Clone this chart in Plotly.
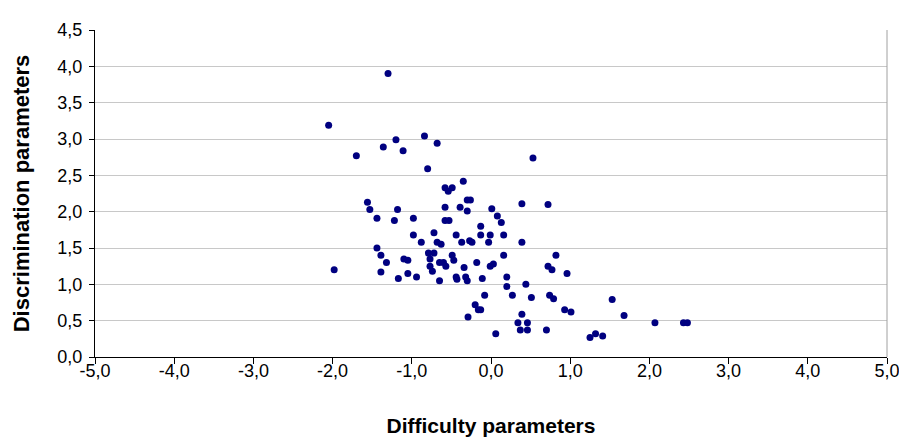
import plotly.graph_objects as go

difficulty = [-2.05, -1.98, -1.70, -1.56, -1.53, -1.44, -1.44, -1.39, -1.39, -1.36,
              -1.30, -1.32, -1.20, -1.18, -1.22, -1.17, -1.11, -1.10, -1.05, -1.05,
              -0.98, -0.98, -0.94, -0.88, -0.84, -0.80, -0.79, -0.72, -0.77, -0.77,
              -0.74, -0.72, -0.68, -0.68, -0.63, -0.65, -0.60, -0.65, -0.58, -0.49,
              -0.54, -0.58, -0.58, -0.53, -0.49, -0.47, -0.57, -0.44, -0.44, -0.43,
              -0.39, -0.37, -0.35, -0.34, -0.32, -0.30, -0.30, -0.26, -0.30, -0.27,
              -0.24, -0.29, -0.20, -0.18, -0.16, -0.13, -0.13, -0.13, -0.11, -0.08,
              -0.03, -0.01, -0.01, 0.03, 0.01, 0.06, 0.08, 0.13, 0.16, 0.16,
              0.20, 0.20, 0.27, 0.34, 0.37, 0.39, 0.39, 0.39, 0.44, 0.46,
              0.46, 0.51, 0.53, 0.70, 0.72, 0.72, 0.77, 0.74, 0.79, 0.82,
              0.96, 0.93, 1.01, 1.25, 1.32, 1.41, 1.53, 1.68, 2.07, 2.43, 2.48]

discrimination = [3.19, 1.20, 2.77, 2.13, 2.03, 1.91, 1.50, 1.40, 1.17, 2.89,
                  3.90, 1.30, 2.99, 2.03, 1.88, 1.08, 2.84, 1.35, 1.33, 1.15,
                  1.91, 1.68, 1.10, 1.58, 3.04, 2.59, 1.43, 1.43, 1.35, 1.25,
                  1.18, 1.71, 2.94, 1.58, 1.55, 1.30, 1.30, 1.05, 2.33, 2.33,
                  2.28, 2.06, 1.88, 1.88, 1.40, 1.33, 1.25, 1.68, 1.10, 1.07,
                  2.06, 1.58, 2.42, 1.23, 1.10, 1.05, 2.16, 2.16, 2.01, 1.60,
                  1.58, 0.55, 0.72, 1.30, 0.65, 0.65, 1.80, 1.68, 1.08, 0.85,
                  1.58, 1.68, 1.25, 1.28, 2.04, 0.32, 1.94, 1.85, 1.68, 1.40,
                  1.10, 0.97, 0.85, 0.47, 0.37, 0.59, 2.11, 1.58, 1.00, 0.47,
                  0.37, 0.82, 2.74, 0.37, 2.10, 1.25, 1.20, 0.85, 0.80, 1.40,
                  1.15, 0.65, 0.62, 0.27, 0.32, 0.29, 0.79, 0.57, 0.47, 0.47, 0.47]

x_ticks = [-5, -4, -3, -2, -1, 0, 1, 2, 3, 4, 5]
x_tick_labels = ["-5,0", "-4,0", "-3,0", "-2,0", "-1,0", "0,0", "1,0", "2,0", "3,0", "4,0", "5,0"]
y_ticks = [0, 0.5, 1, 1.5, 2, 2.5, 3, 3.5, 4, 4.5]
y_tick_labels = ["0,0", "0,5", "1,0", "1,5", "2,0", "2,5", "3,0", "3,5", "4,0", "4,5"]

x_title = "Difficulty parameters"
y_title = "Discrimination parameters"

fig = go.Figure()
fig.add_trace(go.Scatter(
    x=difficulty, y=discrimination, mode="markers",
    marker=dict(color="#000080", size=7, line=dict(width=0)),
    showlegend=False,
))

font = "Arial"
fig.update_layout(
    width=907, height=437,
    margin=dict(l=87, r=28, t=13, b=88),
    paper_bgcolor="white", plot_bgcolor="white",
    font=dict(family=font, size=18, color="black"),
    xaxis=dict(
        range=[-5, 5], tickvals=x_ticks, ticktext=x_tick_labels,
        tickfont=dict(family=font, size=18, color="black"),
        showgrid=False, zeroline=False,
        showline=True, linecolor="black", linewidth=1,
        ticks="outside", ticklen=6, tickcolor="black",
        ticklabelstandoff=-9,
        title=dict(text="<b>" + x_title + "</b>",
                   font=dict(family=font, size=21, color="black"), standoff=38),
    ),
    yaxis=dict(
        range=[0, 4.5], tickvals=y_ticks, ticktext=y_tick_labels,
        tickfont=dict(family=font, size=18, color="black"),
        showgrid=True, gridcolor="#c8c8c8", gridwidth=1, zeroline=False,
        showline=True, linecolor="black", linewidth=1,
        ticks="outside", ticklen=5, tickcolor="black",
        ticklabelstandoff=3,
        title=dict(text="<b>" + y_title + "</b>",
                   font=dict(family=font, size=22, color="black"), standoff=21),
    ),
)
fig.add_shape(type="line", xref="paper", yref="paper", x0=1, x1=1, y0=0, y1=1,
              line=dict(color="#a0a0a0", width=1))

fig.write_html("out.html")
